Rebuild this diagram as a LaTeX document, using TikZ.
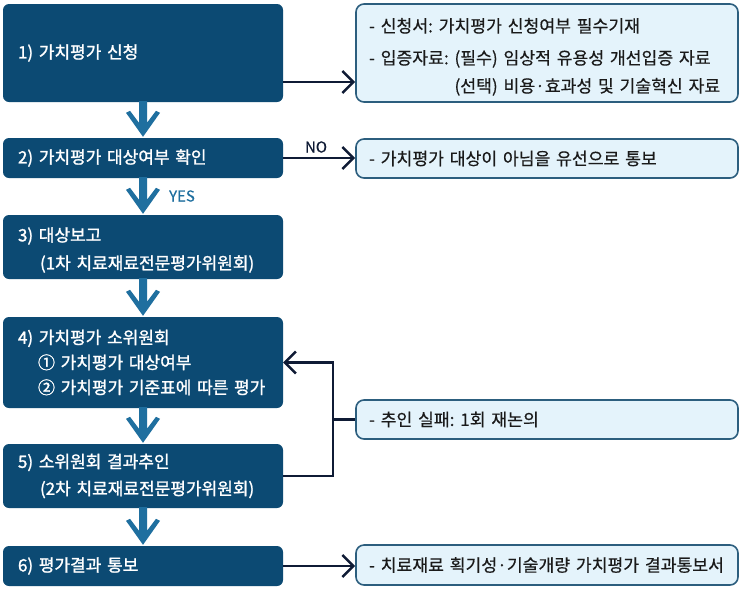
\documentclass[tikz,border=0pt]{standalone}
\usepackage{fontspec}
\setmainfont{Noto Sans CJK KR}
\newfontfamily\darkfont{Noto Sans CJK KR}[FakeBold=1.4]
\newfontfamily\notefont{Noto Sans CJK KR}[FakeBold=0.4]
\usetikzlibrary{arrows.meta,calc}
\definecolor{boxc}{HTML}{0C4A73}
\definecolor{arrowc}{HTML}{1F6F9F}
\definecolor{notec}{HTML}{E4F3FB}
\definecolor{noteborder}{HTML}{2C5E7E}
\definecolor{connc}{HTML}{0F1B35}
\definecolor{textc}{HTML}{1A1A1A}
\frenchspacing
\newcommand\blockarrow[2]{%
  \fill[arrowc] let \p1=(#1.south), \p2=(#2.north) in
    (\x2-4pt,\y2+15pt) -- (\x2-4pt,\y1+1pt) -- (\x2+4pt,\y1+1pt) -- (\x2+4pt,\y2+15pt)
    -- (\x2+13pt,\y2+27pt) -- (\x2+17pt,\y2+25pt) -- (\x2,\y2+1pt)
    -- (\x2-17pt,\y2+25pt) -- (\x2-13pt,\y2+27pt) -- cycle;}
\begin{document}
\begin{tikzpicture}[x=1pt,y=-1pt,
  stepbox/.style={fill=boxc, rounded corners=6pt, text=white, text width=250pt,
    inner xsep=15pt, inner ysep=0pt, align=left, font=\darkfont\fontsize{17}{24}\selectfont\frenchspacing},
  notebox/.style={fill=notec, draw=noteborder, line width=1.6pt, rounded corners=8pt,
    text=textc, text width=356pt, inner xsep=13pt, inner ysep=0pt, align=left,
    font=\notefont\fontsize{17.2}{24}\selectfont\frenchspacing},
  conn/.style={draw=connc, line width=2.5pt, -{Straight Barb[length=11pt,width=22pt]}},
  connl/.style={draw=connc, line width=2.5pt},
  lbl/.style={font=\notefont\fontsize{15}{18}\selectfont, inner sep=0pt}]
\useasboundingbox (0,0) rectangle (743,592);
\fill[white] (0,0) rectangle (743,592);

\node[stepbox, minimum height=98pt] (s1) at (143,53) {1) 가치평가 신청};
\node[stepbox, minimum height=40pt] (s2) at (143,158) {2) 가치평가 대상여부 확인};
\node[stepbox, minimum height=64pt] (s3) at (143,247) {\rule{0pt}{20pt}3) 대상보고\\[4pt]\hspace*{22pt}(1차 치료재료전문평가위원회)};
\node[stepbox, minimum height=91pt] (s4) at (143,362.5) {4) 가치평가 소위원회\\[1pt]\hspace*{20pt}① 가치평가 대상여부\\[1pt]\hspace*{20pt}\mbox{② 가치평가 기준표에 따른 평가}};
\node[stepbox, minimum height=64pt] (s5) at (143,476) {5) 소위원회 결과추인\\[3pt]\hspace*{22pt}(2차 치료재료전문평가위원회)};
\node[stepbox, minimum height=40pt] (s6) at (143,566) {6) 평가결과 통보};

\node[notebox, minimum height=98pt] (n1) at (547,53) {\rule{0pt}{22pt}- 신청서: 가치평가 신청여부 필수기재\\[8pt]- 입증자료: (필수) 임상적 유용성 개선입증 자료\\[4pt]\phantom{- 입증자료: }(선택) 비용·효과성 및 기술혁신 자료};
\node[notebox, minimum height=39pt] (n2) at (547,158.5) {- 가치평가 대상이 아님을 유선으로 통보};
\node[notebox, minimum height=39pt] (n3) at (547,419.5) {- 추인 실패: 1회 재논의};
\node[notebox, minimum height=40pt] (n4) at (547,565) {- 치료재료 획기성·기술개량 가치평가 결과통보서};

\blockarrow{s1}{s2}
\blockarrow{s2}{s3}
\blockarrow{s3}{s4}
\blockarrow{s4}{s5}
\blockarrow{s5}{s6}

\coordinate (c1) at ([yshift=-29pt]s1.east);
\draw[conn] (c1) -- (c1 -| n1.west);
\draw[conn] (s2.east) -- (s2.east -| n2.west);
\draw[conn] (s6.east) -- (s6.east -| n4.west);
\coordinate (fb) at (333,0);
\draw[conn] (s5.east) -- (s5.east -| fb) |- (s4.east);
\draw[connl] (fb |- n3.west) -- (n3.west);

\node[lbl, text=connc] (no) at (316,147) {NO};
\node[lbl, text=arrowc] (yes) at (182,196) {YES};
\end{tikzpicture}
\end{document}
